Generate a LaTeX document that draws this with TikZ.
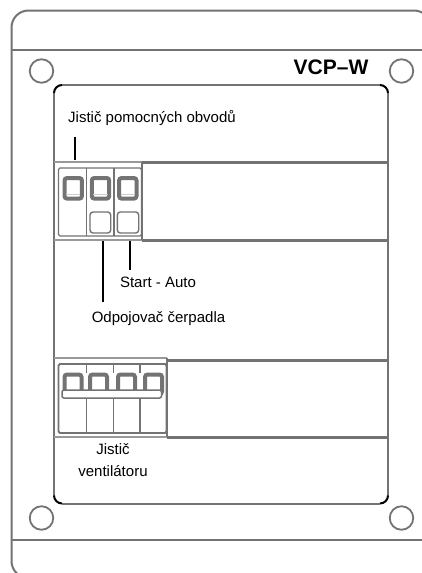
\documentclass[tikz,border=0pt]{standalone}
\usepackage{fontspec}
\setmainfont{Liberation Sans}
\definecolor{ln}{gray}{0.45}
\definecolor{lnl}{gray}{0.6}
\tikzset{x=1pt,y=-1pt,
 lnA/.style={draw=ln,line width=2pt},
 lnT/.style={draw=ln,line width=3pt},
 lnB/.style={draw=lnl,line width=1.3pt},
 lnC/.style={draw=ln,line width=1.4pt,rounded corners=1.5pt},
 handle/.style={draw=ln,line width=4pt,rounded corners=2.5pt},
 gap/.style={draw=lnl!50,line width=1.2pt},
 lead/.style={draw=black,line width=2pt},
 blk/.style={draw=black,line width=2pt},
 hole/.style={circle,draw=ln,line width=1.8pt,minimum size=23.5pt,inner sep=0pt},
 lab/.style={inner sep=0pt,anchor=base,font=\fontsize{15}{17}\selectfont},
 labb/.style={inner sep=0pt,anchor=base,font=\bfseries\fontsize{21}{23}\selectfont}}
\begin{document}
\begin{tikzpicture}
\useasboundingbox (0,0) rectangle (422,573);
\fill[white] (0,0) rectangle (422,573);
\begin{scope}
\clip (0,0) rectangle (422,573);
\draw[lnA,rounded corners=17pt] (11.5,300) -- (11.5,10.5) -- (431,10.5) -- (431,100);
\draw[lnA,rounded corners=17pt] (11.5,300) -- (11.5,578) -- (431,578);
\end{scope}
\draw[lnA] (11.5,50) -- (422,50);
\draw[lnA] (11.5,540) -- (422,540);
\node[hole] (h1) at (41.5,71) {};
\node[hole] (h2) at (401.5,71) {};
\node[hole] (h3) at (41.5,518) {};
\node[hole] (h4) at (401.5,518) {};
% inner panel
\draw[lnA] (62,85) -- (380,85) (388,93) -- (388,495.5) (380,503.5) -- (62,503.5) (54,495.5) -- (54,93);
\draw[blk] (54,93) arc[start angle=180,end angle=270,radius=8];
\draw[blk] (380,85) arc[start angle=270,end angle=360,radius=8];
\draw[blk] (388,495.5) arc[start angle=0,end angle=90,radius=8];
\draw[blk] (62,503.5) arc[start angle=90,end angle=180,radius=8];
% upper breaker strip
\draw[lnB] (54,162) -- (142,162) (54,240) -- (142,240);
\draw[lnT] (142,162) -- (388,162) (142,240.5) -- (388,240.5);
\draw[lnA] (142,162) -- (142,240);
\draw[lnC] (58.5,168) rectangle (141.5,236);
\draw[lnC] (86.7,168) -- (86.7,236) (114,168) -- (114,236);
\foreach \x in {64.5,91.8,119.1}{
 \draw[handle] (\x,178) rectangle (\x+17.4,198.6);
 \draw[gap] (\x+1.6,194.3) -- (\x+15.8,194.3);
}
\draw[lnC,rounded corners=3pt] (90,212) rectangle (110.7,233);
\draw[lnC,rounded corners=3pt] (117.3,212) rectangle (138.7,233);
% lower breaker strip
\draw[lnB] (54,358) -- (167,358) (54,437) -- (167,437);
\draw[lnT] (167,360.5) -- (388,360.5) (167,437.5) -- (388,437.5);
\draw[lnA] (167,358) -- (167,437);
\draw[lnC,line width=1.8pt] (58.5,364) rectangle (166.5,433);
\draw[lnC] (86.7,364) -- (86.7,373) (113.4,364) -- (113.4,373) (140,364) -- (140,373);
\draw[lnC] (86.7,398) -- (86.7,433) (113.4,398) -- (113.4,433) (140,398) -- (140,433);
\foreach \x in {64.5,90,118,145}{
 \draw[handle] (\x,374.5) rectangle (\x+17,394);
}
\filldraw[fill=white,draw=ln,line width=1.5pt,rounded corners=2pt] (62,390) rectangle (161.5,398);
% labels
\node[labb] (t1) at (331,74) {VCP–W};
\node[lab] (t2) at (152,122.7) {Jistič pomocných obvodů};
\node[lab] (t3) at (158,287.7) {Start - Auto};
\node[lab] (t4) at (158.5,322) {Odpojovač čerpadla};
\node[lab] (t5) at (113,454) {Jistič};
\node[lab] (t6) at (113,476) {ventilátoru};
% leaders
\coordinate (a1) at (75,137); \coordinate (a2) at (75,160);
\coordinate (b1) at (102.7,241); \coordinate (b2) at (102.7,302);
\coordinate (c1) at (130,241); \coordinate (c2) at (130,270);
\draw[lead] (a1) -- (a2);
\draw[lead] (b1) -- (b2);
\draw[lead] (c1) -- (c2);
\end{tikzpicture}
\end{document}
